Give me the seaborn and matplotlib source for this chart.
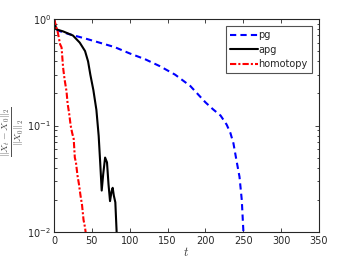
import numpy as np
import pandas as pd
import matplotlib
matplotlib.use("Agg")
import matplotlib.pyplot as plt
import seaborn as sns
from matplotlib.ticker import LogLocator, FixedLocator

# ---- data ----
pg_t = [0, 2, 5, 20, 40, 60, 80, 100, 120, 140, 160, 180, 200, 210, 220, 228, 233, 237, 241, 245, 248, 250.5]
pg_v = [1.0, 0.85, 0.78, 0.72, 0.66, 0.60, 0.545, 0.475, 0.42, 0.36, 0.30, 0.235, 0.165, 0.142, 0.124, 0.102, 0.085, 0.068, 0.047, 0.033, 0.020, 0.009]

apg_t = [0, 3, 12, 25, 34, 41, 45, 48, 52, 56, 59, 61, 63, 65, 67.5, 70, 72, 74, 76, 77.5, 79, 81, 83]
apg_v = [1.0, 0.80, 0.765, 0.70, 0.60, 0.50, 0.40, 0.30, 0.215, 0.14, 0.08, 0.045, 0.0245, 0.035, 0.050, 0.045, 0.028, 0.0195, 0.024, 0.026, 0.022, 0.019, 0.009]

hom_t = [0, 1, 3, 5, 8, 10, 12, 14, 16.5, 18, 20, 22, 24, 26, 27.5, 29, 31, 33, 35, 37, 39, 41, 43]
hom_v = [1.0, 0.95, 0.84, 0.75, 0.58, 0.54, 0.35, 0.27, 0.21, 0.16, 0.13, 0.10, 0.085, 0.075, 0.05, 0.045, 0.034, 0.028, 0.022, 0.018, 0.013, 0.011, 0.0085]

x_ticks = [0, 50, 100, 150, 200, 250, 300, 350]

sns.set_style("ticks")
plt.rcParams['font.family'] = ['DejaVu Sans']
plt.rcParams['mathtext.fontset'] = 'cm'

fig = plt.figure(figsize=(3.53, 2.65), dpi=100)
ax = fig.add_axes([54/353, 1-232/265, (319-54)/353, (232-19)/265])

dfs = [
    (pd.DataFrame({'t': pg_t, 'v': pg_v}), 'pg', '#0000ff', (0, (3, 2))),
    (pd.DataFrame({'t': apg_t, 'v': apg_v}), 'apg', '#000000', '-'),
    (pd.DataFrame({'t': hom_t, 'v': hom_v}), 'homotopy', '#ff0000', (0, (3, 1, 1, 1))),
]
for df, lab, col, ls in dfs:
    sns.lineplot(data=df, x='t', y='v', ax=ax, color=col, linestyle=ls,
                 linewidth=1.5, label=lab, sort=False, estimator=None)

ax.set_yscale('log')
ax.set_xlim(0, 350)
ax.set_ylim(1e-2, 1)
ax.xaxis.set_major_locator(FixedLocator(x_ticks))
ax.yaxis.set_major_locator(LogLocator(base=10, numticks=5))
ax.yaxis.set_minor_locator(LogLocator(base=10, subs=np.arange(2, 10), numticks=10))

axcol = '#262626'
for s in ax.spines.values():
    s.set_visible(True)
    s.set_color(axcol)
    s.set_linewidth(0.8)
ax.tick_params(axis='both', which='both', direction='in', top=True, right=True,
               colors=axcol, labelsize=7, width=0.6)
ax.tick_params(which='major', length=3)
ax.tick_params(which='minor', length=1.8)
ax.tick_params(axis='x', pad=3)
ax.tick_params(axis='y', pad=2)

ax.set_xlabel(r'$t$', fontsize=9, color='#404040', labelpad=0)
ax.set_ylabel(r'$\frac{\|X_t - X_0\|_2}{\|X_0\|_2}$', fontsize=10, color='#505050')
ax.yaxis.set_label_coords(-0.105, 0.47)

leg = ax.legend(loc='upper right', fontsize=7, frameon=True, fancybox=False,
                borderaxespad=0.7, handlelength=2.8, handletextpad=0.1,
                labelspacing=0.45, borderpad=0.45)
leg.get_frame().set_edgecolor(axcol)
leg.get_frame().set_linewidth(0.8)

fig.savefig('out.png', dpi=100)
